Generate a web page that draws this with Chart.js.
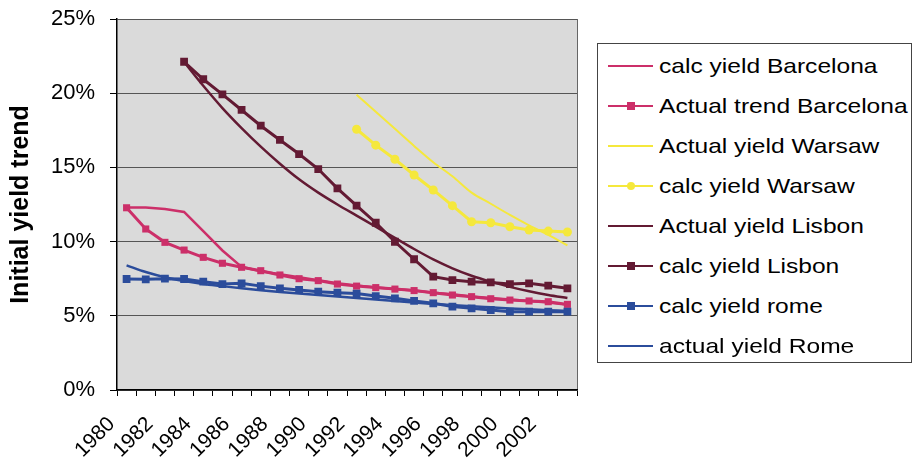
<!DOCTYPE html>
<html>
<head>
    <title>Initial yield trend</title>
    <script src="https://cdn.jsdelivr.net/npm/chart.js@4.4.1/dist/chart.umd.min.js"></script>
    <style>
        body { margin: 0; background: #fff; }
        .wrap { position: relative; width: 914px; height: 467px; }
        #legend {
            position: absolute; left: 597px; top: 43px; width: 315px; height: 320px;
            border: 1px solid #444; box-sizing: border-box; background: #fff;
        }
        .row { position: absolute; left: 0; width: 100%; height: 40px; }
        .sample { position: absolute; left: 10px; width: 45px; top: 19px; height: 2px; }
        .mark { position: absolute; left: 29px; top: 16px; width: 8px; height: 8px; }
        .txt {
            position: absolute; left: 61px; top: 0; line-height: 40px; white-space: nowrap;
            font-family: 'Liberation Sans', Arial, sans-serif; font-size: 21px; color: #000;
            transform: scaleX(1.17); transform-origin: left center;
        }
    </style>
</head>
<body>
<div class="wrap">
    <canvas id="myChart" width="914" height="467"></canvas>
    <div id="legend"></div>
</div>

<script>
    // categories
    const years = ['1980', '1981', '1982', '1983', '1984', '1985', '1986', '1987', '1988', '1989', '1990', '1991',
                   '1992', '1993', '1994', '1995', '1996', '1997', '1998', '1999', '2000', '2001', '2002', '2003'];
    const yTicks = [0, 5, 10, 15, 20, 25];

    // series values in %
    const calcBarcelona = [12.3, 12.3, 12.2, 12.0, 10.7, 9.4, 8.3, 8.0, 7.8, 7.6, 7.4, 7.2,
                           7.05, 6.9, 6.8, 6.7, 6.55, 6.45, 6.3, 6.2, 6.1, 6.0, 5.9, 5.75];
    const actualTrendBarcelona = [12.28, 10.85, 9.95, 9.43, 8.94, 8.54, 8.27, 8.04, 7.75, 7.5, 7.37, 7.14,
                                  7.0, 6.9, 6.8, 6.7, 6.56, 6.4, 6.29, 6.15, 6.06, 6.0, 5.95, 5.77];
    const actualWarsaw = [null, null, null, null, null, null, null, null, null, null, null, null,
                          19.9, 18.75, 17.6, 16.45, 15.35, 14.4, 13.3, 12.55, 11.8, 11.1, 10.45, 9.75];
    const calcWarsaw = [null, null, null, null, null, null, null, null, null, null, null, null,
                        17.57, 16.5, 15.55, 14.49, 13.48, 12.42, 11.34, 11.27, 11.0, 10.78, 10.71, 10.65];
    const actualLisbon = [null, null, null, 22.1, 20.5, 19.0, 17.65, 16.4, 15.25, 14.2, 13.3, 12.5,
                          11.75, 11.0, 10.25, 9.5, 8.8, 8.2, 7.7, 7.3, 6.95, 6.65, 6.4, 6.2];
    const calcLisbon = [null, null, null, 22.12, 20.94, 19.92, 18.87, 17.81, 16.85, 15.9, 14.89, 13.59,
                        12.42, 11.27, 9.99, 8.81, 7.64, 7.41, 7.3, 7.25, 7.14, 7.19, 7.03, 6.85];
    const calcRome = [7.48, 7.46, 7.5, 7.48, 7.3, 7.14, 7.19, 7.0, 6.85, 6.74, 6.62, 6.56,
                      6.5, 6.33, 6.18, 6.0, 5.84, 5.62, 5.5, 5.39, 5.28, 5.28, 5.28, 5.28];
    const actualRome = [8.4, 7.95, 7.6, 7.35, 7.15, 7.0, 6.85, 6.72, 6.6, 6.5, 6.4, 6.3,
                        6.2, 6.1, 6.0, 5.9, 5.8, 5.72, 5.64, 5.57, 5.5, 5.44, 5.38, 5.32];

    const pink = '#cc2f69';
    const yellow = '#f5e83c';
    const maroon = '#631a33';
    const blue = '#2b4c9b';

    const series = [
        { label: 'calc yield Barcelona', data: calcBarcelona, color: pink, width: 2.5, marker: null, smooth: false },
        { label: 'Actual trend Barcelona', data: actualTrendBarcelona, color: pink, width: 3, marker: 'rect', r: 5 },
        { label: 'Actual yield Warsaw', data: actualWarsaw, color: yellow, width: 2, marker: null, smooth: true },
        { label: 'calc yield Warsaw', data: calcWarsaw, color: yellow, width: 3, marker: 'circle', r: 4.5 },
        { label: 'Actual yield Lisbon', data: actualLisbon, color: maroon, width: 2.5, marker: null, smooth: true },
        { label: 'calc yield Lisbon', data: calcLisbon, color: maroon, width: 3, marker: 'rect', r: 5.5 },
        { label: 'calc yield rome', data: calcRome, color: blue, width: 3, marker: 'rect', r: 5.5 },
        { label: 'actual yield Rome', data: actualRome, color: blue, width: 2.5, marker: null, smooth: true }
    ];

    const datasets = series.map(function (s, ix) {
        return {
            label: s.label,
            data: s.data,
            borderColor: s.color,
            backgroundColor: s.color,
            borderWidth: s.width,
            pointStyle: s.marker || 'circle',
            pointRadius: s.marker ? s.r : 0,
            pointBorderWidth: 0,
            cubicInterpolationMode: s.smooth ? 'monotone' : 'default',
            tension: 0,
            order: series.length - ix // later series drawn on top, like excel
        };
    });

    // grey plot area + right border
    const plotBg = {
        id: 'plotBg',
        beforeDraw(chart) {
            const ctx = chart.ctx;
            const a = chart.chartArea;
            ctx.save();
            ctx.fillStyle = '#dadada';
            ctx.fillRect(a.left, a.top, a.right - a.left, a.bottom - a.top);
            ctx.strokeStyle = '#666';
            ctx.lineWidth = 1;
            ctx.beginPath();
            ctx.moveTo(a.right + 0.5, a.top);
            ctx.lineTo(a.right + 0.5, a.bottom);
            ctx.stroke();
            ctx.restore();
        }
    };

    const ctx = document.getElementById('myChart');
    const myChart = new Chart(ctx, {
        type: 'line',
        data: { labels: years, datasets: datasets },
        plugins: [plotBg],
        options: {
            responsive: false,
            animation: false,
            devicePixelRatio: 1,
            layout: { padding: { top: 19, right: 337, left: 0, bottom: 0 } },
            plugins: { legend: { display: false }, tooltip: { enabled: false } },
            scales: {
                x: {
                    offset: true,
                    afterFit: function (s) { s.height = 77; },
                    grid: { offset: true, drawOnChartArea: false, drawTicks: true, tickLength: 6, tickColor: '#000' },
                    border: { color: '#000', width: 1.5 },
                    ticks: {
                        autoSkip: false, maxRotation: 45, minRotation: 45,
                        labelOffset: -15, padding: 16, color: '#000',
                        font: { family: "'Liberation Sans', Arial", size: 21 },
                        callback: function (v, i) { return i % 2 === 0 ? years[i] : ''; }
                    }
                },
                y: {
                    min: yTicks[0],
                    max: yTicks[yTicks.length - 1],
                    afterFit: function (s) {
                        s.width = 117;
                        // tick padding would otherwise push the plot top down
                        s.paddingTop = 0;
                        s.paddingBottom = 0;
                    },
                    afterBuildTicks: function (s) { s.ticks = yTicks.map(v => ({ value: v })); },
                    grid: { color: '#555', lineWidth: 1, tickLength: 7, tickColor: '#000' },
                    border: { color: '#000', width: 1.5 },
                    ticks: {
                        padding: 15, color: '#000',
                        font: { family: "'Liberation Sans', Arial", size: 22 },
                        callback: function (v) { return v + '%'; }
                    },
                    title: {
                        display: true, text: 'Initial yield trend', color: '#000',
                        padding: { top: 6, bottom: 0 },
                        font: { family: "'Liberation Sans', Arial", size: 25, weight: 'bold' }
                    }
                }
            }
        }
    });

    // legend with a border, like the excel one
    const legend = document.getElementById('legend');
    series.forEach(function (s, ix) {
        const row = document.createElement('div');
        row.className = 'row';
        row.style.top = (2 + 40 * ix) + 'px';
        let html = '<div class="sample" style="background:' + s.color + '"></div>';
        if (s.marker) {
            const round = s.marker === 'circle' ? 'border-radius:50%;' : '';
            html += '<div class="mark" style="background:' + s.color + ';' + round + '"></div>';
        }
        html += '<span class="txt">' + s.label + '</span>';
        row.innerHTML = html;
        legend.appendChild(row);
    });
</script>
</body>
</html>
